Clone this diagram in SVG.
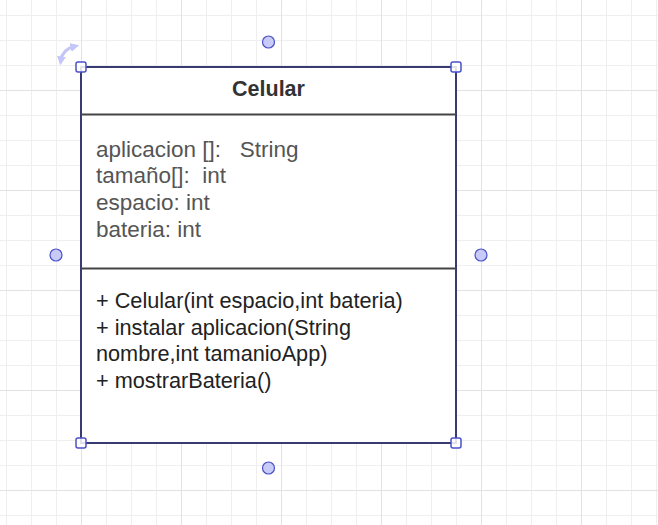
<svg xmlns="http://www.w3.org/2000/svg" width="658" height="525" viewBox="0 0 658 525">
<defs>
<pattern id="grid" x="81" y="90" width="100" height="100" patternUnits="userSpaceOnUse">
<path d="M25.5 0V100M50.5 0V100M75.5 0V100M0 25.5H100M0 50.5H100M0 75.5H100" stroke="#efefef" stroke-width="1" fill="none"/>
<path d="M0.5 0V100M0 0.5H100" stroke="#e2e2e2" stroke-width="1" fill="none"/>
</pattern>
<marker id="rot" viewBox="0 0 10 10" refX="4" refY="5" markerWidth="2.8" markerHeight="2.8" orient="auto-start-reverse">
<path d="M0 0L10 5L0 10z" fill="#c3c6f6"/>
</marker>
<style>
.txt{font-family:"Liberation Sans",Arial,sans-serif;font-size:21.7px;white-space:pre}
.title{font-weight:bold;fill:#333;text-anchor:middle;font-size:21.5px}
.attr{fill:#555;font-size:22.5px}
.meth{fill:#222}
.handle{fill:#fff;fill-opacity:0.85;stroke:#4a50c8;stroke-width:1.5}
.conn{fill:#c8cbf8;stroke:#4a50c8;stroke-width:1.2}
</style>
</defs>
<rect width="658" height="525" fill="#fff"/>
<rect width="658" height="525" fill="url(#grid)"/>
<g id="Celular">
<rect x="81" y="67" width="375" height="376" fill="#fff" stroke="#333" stroke-width="2"/>
<line x1="81" y1="114.5" x2="456" y2="114.5" stroke="#444" stroke-width="2"/>
<line x1="81" y1="268.5" x2="456" y2="268.5" stroke="#444" stroke-width="2"/>
<text class="txt title" x="268.5" y="96">Celular</text>
<text class="txt attr" x="96" y="156.5">aplicacion []:   String</text>
<text class="txt attr" x="96" y="183.2">tamaño[]:  int</text>
<text class="txt attr" x="96" y="209.9">espacio: int</text>
<text class="txt attr" x="96" y="236.6">bateria: int</text>
<text class="txt meth" x="96" y="308.3">+ Celular(int espacio,int bateria)</text>
<text class="txt meth" x="96" y="334.8">+ instalar aplicacion(String</text>
<text class="txt meth" x="96" y="361.2">nombre,int tamanioApp)</text>
<text class="txt meth" x="96" y="387.5">+ mostrarBateria()</text>
</g>
<g id="selection">
<rect x="81" y="67" width="375" height="376" fill="none" stroke="#3f47c6" stroke-width="1" stroke-opacity="0.85"/>
<path d="M61 60Q62.5 49.5 74 46.5" fill="none" stroke="#c3c6f6" stroke-width="3.2" marker-start="url(#rot)" marker-end="url(#rot)"/>
<rect class="handle" x="76" y="62" width="10" height="10" rx="2"/>
<rect class="handle" x="451" y="62" width="10" height="10" rx="2"/>
<rect class="handle" x="76" y="438" width="10" height="10" rx="2"/>
<rect class="handle" x="451" y="438" width="10" height="10" rx="2"/>
</g>
<g id="connectors">
<circle class="conn" cx="268.5" cy="42" r="6"/>
<circle class="conn" cx="56" cy="255" r="6"/>
<circle class="conn" cx="481" cy="255" r="6"/>
<circle class="conn" cx="268.5" cy="468" r="6"/>
</g>
</svg>
